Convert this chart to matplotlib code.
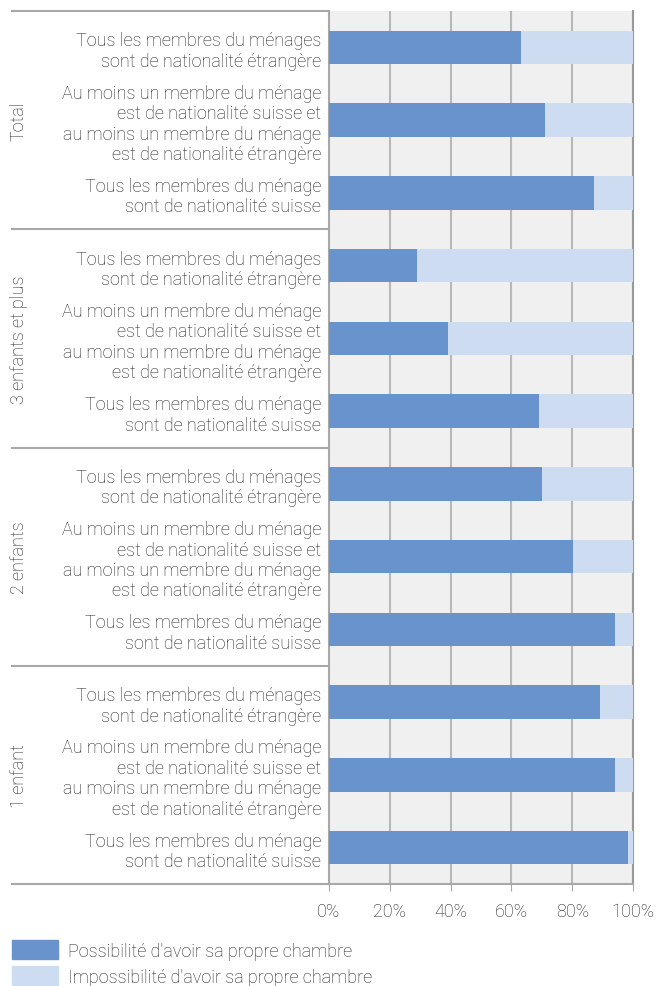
import matplotlib
matplotlib.use("Agg")
import matplotlib.pyplot as plt
import matplotlib.transforms as mtransforms
from matplotlib.patches import Patch
import numpy as np

plt.rcParams['font.family'] = ['Roboto', 'DejaVu Sans']

# donnees
groups = ["Total", "3 enfants et plus", "2 enfants", "1 enfant"]
categories = [
    "Tous les membres du ménages\nsont de nationalité étrangère",
    "Au moins un membre du ménage\nest de nationalité suisse et\nau moins un membre du ménage\nest de nationalité étrangère",
    "Tous les membres du ménage\nsont de nationalité suisse",
]
# possibilite d'avoir sa propre chambre (%), par groupe dans l'ordre des categories
possible_total = [63.2, 71.1, 87.2]
possible_3plus = [28.9, 39.1, 69.1]
possible_2 = [70.1, 80.3, 94.1]
possible_1 = [89.1, 94.1, 98.4]
legend_labels = ["Possibilité d'avoir sa propre chambre",
                 "Impossibilité d'avoir sa propre chambre"]
xticks = [0, 20, 40, 60, 80, 100]

possible = np.array(possible_total + possible_3plus + possible_2 + possible_1)
impossible = 100 - possible
labels = categories * len(groups)

c_dark = "#6893cc"
c_light = "#cddcf1"
txt = "#222222"
gray = "#a8a8a8"
fs = 13

fig = plt.figure(figsize=(6.57, 9.87), dpi=100)
ax = fig.add_axes([329/657, 1 - 885/987, 304/657, 873/987])
ax.set_facecolor("#f0f0f0")

y = np.arange(len(possible))
ax.barh(y, possible, height=0.46, color=c_dark, zorder=3)
ax.barh(y, impossible, left=possible, height=0.46, color=c_light, zorder=3)

ax.set_xlim(0, 100)
ax.set_ylim(len(possible) - 0.5, -0.5)
ax.set_xticks(xticks)
ax.set_xticklabels([f"{t}%" for t in xticks], fontsize=fs, color=txt, fontweight='light')
ax.set_yticks(y)
ax.set_yticklabels(labels, fontsize=fs, color=txt, fontweight='light', linespacing=1.17)
ax.tick_params(axis='y', length=0, pad=5.5)
ax.tick_params(axis='x', length=5, color=gray, pad=8)
ax.xaxis.grid(True, color="#b8b8b8", linewidth=1.5, zorder=0)
ax.set_axisbelow(True)
ax.spines["top"].set_visible(False)
ax.spines["left"].set_color(gray)
ax.spines["left"].set_linewidth(1.5)
ax.spines["right"].set_color("#999999")
ax.spines["right"].set_linewidth(1.5)
ax.spines["bottom"].set_color(gray)
ax.spines["bottom"].set_linewidth(1.5)

# separateurs de groupes et titres verticaux
trans = mtransforms.blended_transform_factory(ax.transAxes, ax.transData)
x0 = (12 - 329) / 304
for k in range(len(groups) + 1):
    ax.plot([x0, 0], [k*3 - 0.5, k*3 - 0.5], color=gray, lw=1.5,
            transform=trans, clip_on=False)
for k, g in enumerate(groups):
    ax.text((19 - 329) / 304, k*3 + 1, g, rotation=90, transform=trans,
            ha='center', va='center', fontsize=fs, color=txt, fontweight='light')

handles = [Patch(color=c_dark), Patch(color=c_light)]
fig.legend(handles, legend_labels, loc='upper left',
           bbox_to_anchor=(12/657, 1 - 941/987), frameon=False,
           handlelength=2.55, handleheight=1.25,
           handletextpad=0.55, labelspacing=0.36, borderpad=0, borderaxespad=0,
           labelcolor=txt, prop={'weight': 'light', 'size': fs})

fig.savefig("out.png", dpi=100)
